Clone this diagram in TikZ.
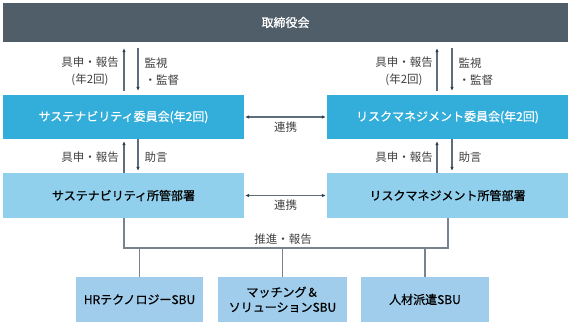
\documentclass[tikz,border=0pt]{standalone}
\usepackage{fontspec}
\setmainfont{Noto Sans CJK JP}
\newfontfamily\boxfont[FakeBold=0.8]{Noto Sans CJK JP}
\usepackage{xcolor}
\usepackage{tikz}
\usetikzlibrary{arrows.meta,positioning,calc}
\definecolor{GovDark}{HTML}{505E69}
\definecolor{GovBlue}{HTML}{33ADD9}
\definecolor{GovLight}{HTML}{90D0EC}
\definecolor{GovSbu}{HTML}{A0CDEB}
\definecolor{GovLine}{HTML}{5F6E7B}
\definecolor{GovTip}{HTML}{2E3D4C}
\definecolor{GovText}{HTML}{404040}

\begin{document}
\begin{tikzpicture}[x=1pt,y=-1pt,
  box/.style={rectangle,inner sep=0pt,font=\boxfont\fontsize{12}{15}\selectfont,align=center},
  arr/.style={draw=GovLine,line width=1.1pt,-{Latex[length=4pt,width=3.6pt,color=GovTip]}},
  twoarr/.style={draw=GovLine,line width=1.1pt,{Latex[length=4pt,width=3.6pt,color=GovTip]}-{Latex[length=4pt,width=3.6pt,color=GovTip]}},
  tree/.style={draw=GovLine!85,line width=1.1pt},
  lbl/.style={font=\fontsize{11.5}{17}\selectfont,text=GovText,align=center}]
  \useasboundingbox (0,0) rectangle (571,325);

  % boxes
  \node[box,fill=GovDark,text=white,minimum width=565pt,minimum height=39pt] (board) at (285.5,22.5) {取締役会};
  \node[box,fill=GovBlue,text=white,minimum width=241pt,minimum height=44pt] (susCom) at (123.5,117) {サステナビリティ委員会(年2回)};
  \node[box,fill=GovBlue,text=white,minimum width=241pt,minimum height=44pt] (riskCom) at (447.5,117) {リスクマネジメント委員会(年2回)};
  \node[box,fill=GovLight,text=black,minimum width=241pt,minimum height=45pt] (susDept) at (123.5,195.5) {サステナビリティ所管部署};
  \node[box,fill=GovLight,text=black,minimum width=241pt,minimum height=45pt] (riskDept) at (447.5,195.5) {リスクマネジメント所管部署};
  \node[box,fill=GovSbu,text=black,minimum width=127pt,minimum height=45pt] (sbuHR) at (139.5,299.5) {HRテクノロジーSBU};
  \node[box,fill=GovSbu,text=black,minimum width=129pt,minimum height=45pt] (sbuMatch) at (282.5,299.5) {マッチング＆\\ソリューションSBU};
  \node[box,fill=GovSbu,text=black,minimum width=128pt,minimum height=45pt] (sbuStaff) at (425,299.5) {人材派遣SBU};

  % board <-> committees
  \draw[arr] ([xshift=0.5pt,yshift=4pt]susCom.north) -- ([xshift=0.5pt,yshift=-6pt]susCom.north |- board.south);
  \draw[arr] ([xshift=14.5pt,yshift=-6pt]susCom.north |- board.south) -- ([xshift=14.5pt,yshift=4pt]susCom.north);
  \draw[arr] ([xshift=-10.5pt,yshift=4pt]riskCom.north) -- ([xshift=-10.5pt,yshift=-6pt]riskCom.north |- board.south);
  \draw[arr] ([xshift=4.5pt,yshift=-6pt]riskCom.north |- board.south) -- ([xshift=4.5pt,yshift=4pt]riskCom.north);
  \node[lbl] (upL) at (90,71.5) {具申・報告\\(年2回)};
  \node[lbl,anchor=west,align=left] (downL) at (141,71.5) {監視\\・監督};
  \node[lbl] (upR) at (404,71.5) {具申・報告\\(年2回)};
  \node[lbl,anchor=west,align=left] (downR) at (455,71.5) {監視\\・監督};

  % committees <-> departments
  \draw[arr] ([xshift=0.5pt]susDept.north) -- ([xshift=0.5pt,yshift=-2pt]susCom.south);
  \draw[arr] ([xshift=14.5pt]susCom.south) -- ([xshift=14.5pt,yshift=2pt]susDept.north);
  \draw[arr] ([xshift=-10.5pt]riskDept.north) -- ([xshift=-10.5pt,yshift=-2pt]riskCom.south);
  \draw[arr] ([xshift=4.5pt]riskCom.south) -- ([xshift=4.5pt,yshift=2pt]riskDept.north);
  \node[lbl] (upL2) at (90,157) {具申・報告};
  \node[lbl,anchor=west] (advL) at (141,157) {助言};
  \node[lbl] (upR2) at (404,157) {具申・報告};
  \node[lbl,anchor=west] (advR) at (455,157) {助言};

  % cooperation
  \draw[twoarr] ([xshift=1pt]susCom.east) -- ([xshift=-1pt]riskCom.west);
  \node[lbl] (coop1) at (285.5,127) {連携};
  \draw[twoarr] ([xshift=1pt]susDept.east) -- ([xshift=-1pt]riskDept.west);
  \node[lbl] (coop2) at (285.5,205) {連携};

  % tree to SBUs
  \coordinate (busL) at (124,248);
  \coordinate (busR) at (448,248);
  \draw[tree] ([xshift=0.5pt]susDept.south) -- (busL) -- (busR) -- ([xshift=0.5pt]riskDept.south);
  \draw[tree] (sbuHR.north) -- (sbuHR.north |- busL);
  \draw[tree] (sbuMatch.north) -- (sbuMatch.north |- busL);
  \draw[tree] (sbuStaff.north) -- (sbuStaff.north |- busL);
  \node[lbl] (push) at (283,239.5) {推進・報告};
\end{tikzpicture}
\end{document}
